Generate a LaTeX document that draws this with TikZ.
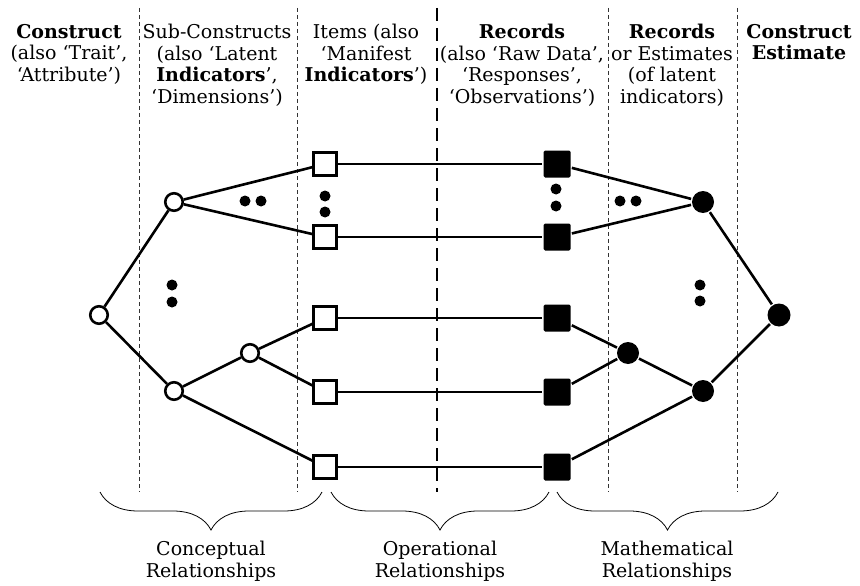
\documentclass[tikz,border=0pt]{standalone}
\usepackage{fontspec}
\setmainfont{DejaVu Serif}
\usetikzlibrary{positioning, decorations.pathreplacing}

\begin{document}
\begin{tikzpicture}[x=1pt,y=-1pt,line width=2.6pt,
    latent/.style={circle,draw,fill=white,minimum size=17.5pt,inner sep=0pt},
    item/.style={rectangle,draw,fill=white,minimum size=22.5pt,inner sep=0pt},
    record/.style={rectangle,fill=black,rounded corners=1.5pt,minimum size=27pt,inner sep=0pt},
    estimate/.style={circle,fill=black,minimum size=22pt,inner sep=0pt},
    dot/.style={circle,fill=black,minimum size=11pt,inner sep=0pt},
    divider/.style={line width=0.7pt,black!80,dash pattern=on 4pt off 3pt},
    head/.style={anchor=north,align=center,inner sep=0pt,font=\fontsize{19}{21.5}\selectfont},
    relbrace/.style={line width=0.8pt,decorate,decoration={brace,mirror,amplitude=38pt}}]

    \useasboundingbox (0,0) rectangle (860,586);

    % column headings
    \node[head] (hCon) at (69,23) {\textbf{Construct}\\(also ‘Trait’,\\‘Attribute’)};
    \node[head] (hSub) at (217,23) {Sub-Constructs\\(also ‘Latent\\\textbf{Indicators}’,\\‘Dimensions’)};
    \node[head] (hItm) at (366,23) {Items (also\\‘Manifest\\\textbf{Indicators}’)};
    \node[head] (hRec) at (522,23) {\textbf{Records}\\(also ‘Raw Data’,\\‘Responses’,\\‘Observations’)};
    \node[head] (hEst) at (672,23) {\textbf{Records}\\or Estimates\\(of latent\\indicators)};
    \node[head] (hCE) at (799,23) {\textbf{Construct}\\\textbf{Estimate}};

    % column dividers
    \foreach \x in {139,297,608,737}
        \draw[divider] (\x,8) -- (\x,492);
    \draw[line width=1.6pt,dash pattern=on 13pt off 7pt] (437,8) -- (437,492);

    % nodes
    \node[latent] (c) at (99,315) {};
    \node[latent] (s1) at (174,202) {};
    \node[latent] (s2) at (174,391) {};
    \node[latent] (s3) at (250,353) {};
    \foreach \i/\y in {1/164,2/237,3/318,4/392,5/467} {
        \node[item] (i\i) at (325,\y) {};
        \node[record] (r\i) at (557,\y) {};
    }
    \node[estimate] (e1) at (703,202) {};
    \node[estimate] (e2) at (628,353) {};
    \node[estimate] (e3) at (703,391) {};
    \node[estimate,minimum size=23pt] (ce) at (779,315) {};

    % connections
    \path (c) edge (s1) edge (s2)
          (s1) edge (i1) edge (i2)
          (s2) edge (s3) edge (i5)
          (s3) edge (i3) edge (i4)
          (r1) edge (e1) (r2) edge (e1)
          (r3) edge (e2) (r4) edge (e2)
          (e2) edge (e3) (r5) edge (e3)
          (e1) edge (ce) (e3) edge (ce);
    \foreach \i in {1,...,5}
        \draw (i\i) -- (r\i);

    % ellipsis dots
    \foreach \x/\y in {245/201,261/201,325/196,325/212,172/285,172/302,
                       556/189,556/206,620/201,636/201,700/285,700/301}
        \node[dot] at (\x,\y) {};

    % braces
    \draw[relbrace] (100,492) -- coordinate (b1) (322,492);
    \draw[relbrace] (331,492) -- coordinate (b2) (549,492);
    \draw[relbrace] (557,492) -- coordinate (b3) (778,492);
    \node[head] (lCon) at (211,540) {Conceptual\\Relationships};
    \node[head] (lOp) at (440,540) {Operational\\Relationships};
    \node[head] (lMat) at (667,540) {Mathematical\\Relationships};
\end{tikzpicture}
\end{document}
